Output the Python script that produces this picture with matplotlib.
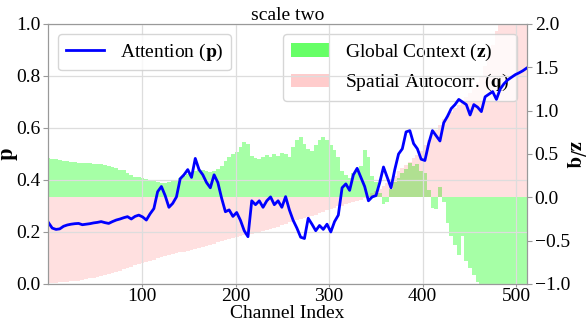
import numpy as np
import matplotlib
matplotlib.use('Agg')
import matplotlib.pyplot as plt
from matplotlib.patches import Patch
from matplotlib.lines import Line2D

# Attention p (left axis), sampled every 4 channels
attention_p = [
    0.236, 0.215, 0.210, 0.212, 0.222, 0.227, 0.230, 0.232, 0.233, 0.228, 0.230, 0.232, 0.235, 0.237, 0.240, 0.236,
    0.233, 0.240, 0.246, 0.250, 0.255, 0.259, 0.250, 0.260, 0.265, 0.258, 0.246, 0.270, 0.290, 0.355, 0.375, 0.340,
    0.295, 0.310, 0.335, 0.405, 0.420, 0.440, 0.410, 0.483, 0.440, 0.420, 0.390, 0.370, 0.420, 0.390, 0.330, 0.278,
    0.285, 0.260, 0.275, 0.245, 0.205, 0.182, 0.320, 0.305, 0.320, 0.295, 0.320, 0.335, 0.305, 0.320, 0.295, 0.336,
    0.285, 0.245, 0.215, 0.180, 0.175, 0.253, 0.230, 0.205, 0.225, 0.210, 0.230, 0.200, 0.240, 0.265, 0.370, 0.385,
    0.360, 0.420, 0.445, 0.410, 0.375, 0.320, 0.335, 0.340, 0.390, 0.450, 0.410, 0.370, 0.440, 0.500, 0.520, 0.585,
    0.590, 0.540, 0.520, 0.480, 0.475, 0.540, 0.590, 0.570, 0.550, 0.620, 0.645, 0.675, 0.690, 0.710, 0.700, 0.690,
    0.650, 0.690, 0.680, 0.663, 0.720, 0.730, 0.740, 0.710, 0.750, 0.770, 0.785, 0.795, 0.805, 0.812, 0.820, 0.830,
]

# Global Context z (right axis)
global_z = [
    0.45, 0.44, 0.44, 0.43, 0.42, 0.42, 0.41, 0.41, 0.40, 0.40, 0.40, 0.395, 0.39, 0.39, 0.385, 0.37,
    0.36, 0.35, 0.34, 0.32, 0.31, 0.28, 0.26, 0.24, 0.23, 0.22, 0.21, 0.20, 0.19, 0.18, 0.17, 0.16,
    0.18, 0.19, 0.20, 0.22, 0.25, 0.27, 0.29, 0.30, 0.31, 0.32, 0.30, 0.29, 0.30, 0.33, 0.36, 0.42,
    0.46, 0.50, 0.52, 0.58, 0.64, 0.62, 0.48, 0.45, 0.44, 0.46, 0.49, 0.47, 0.50, 0.48, 0.51, 0.50,
    0.46, 0.58, 0.66, 0.70, 0.62, 0.56, 0.54, 0.60, 0.66, 0.70, 0.66, 0.60, 0.55, 0.47, 0.30, 0.26,
    0.22, 0.28, 0.33, 0.36, 0.55, 0.46, 0.25, 0.18, 0.05, -0.08, -0.05, 0.10, 0.18, 0.22, 0.28, 0.33,
    0.40, 0.36, 0.38, 0.30, 0.28, 0.08, -0.12, -0.14, 0.12, -0.05, -0.30, -0.45, -0.55, -0.66, -0.45, -0.74,
    -0.82, -0.90, -0.98, -1.05, -1.10, -1.10, -1.10, -1.10, -1.10, -1.10, -1.10, -1.10, -1.10, -1.10, -1.10, -1.10,
]

# Spatial Autocorrelation q (right axis)
spatial_q = [
    -0.99, -0.99, -0.985, -0.98, -0.98, -0.975, -0.97, -0.97, -0.965, -0.955, -0.945, -0.935, -0.925, -0.915, -0.91, -0.90,
    -0.89, -0.875, -0.86, -0.845, -0.83, -0.815, -0.80, -0.785, -0.77, -0.755, -0.745, -0.73, -0.72, -0.705, -0.69, -0.68,
    -0.665, -0.655, -0.645, -0.635, -0.625, -0.615, -0.605, -0.595, -0.585, -0.575, -0.565, -0.55, -0.535, -0.52, -0.505, -0.49,
    -0.48, -0.47, -0.46, -0.45, -0.44, -0.43, -0.42, -0.41, -0.40, -0.39, -0.38, -0.37, -0.355, -0.34, -0.32, -0.305,
    -0.29, -0.28, -0.265, -0.25, -0.24, -0.225, -0.215, -0.20, -0.185, -0.17, -0.15, -0.13, -0.12, -0.105, -0.095, -0.08,
    -0.07, -0.055, -0.04, -0.025, -0.005, 0.02, 0.045, 0.07, 0.10, 0.13, 0.17, 0.21, 0.25, 0.30, 0.34, 0.37,
    0.41, 0.45, 0.49, 0.54, 0.60, 0.66, 0.72, 0.78, 0.84, 0.90, 0.94, 0.98, 1.03, 1.07, 1.12, 1.16,
    1.20, 1.26, 1.33, 1.40, 1.52, 1.63, 1.76, 1.92, 2.05, 2.12, 2.20, 2.30, 2.40, 2.50, 2.65, 2.80,
]

x_ticks = [100, 200, 300, 400, 500]
p_ticks = [0.0, 0.2, 0.4, 0.6, 0.8, 1.0]
zq_ticks = [-1.0, -0.5, 0.0, 0.5, 1.0, 1.5, 2.0]

channels = np.linspace(0, 511, len(attention_p))

plt.rcParams['font.family'] = ['Liberation Serif', 'DejaVu Serif']
plt.rcParams['mathtext.fontset'] = 'stix'

fig = plt.figure(figsize=(5.86, 3.21), dpi=100)
ax = fig.add_axes([48 / 586, 37 / 321, 479 / 586, 260 / 321])
ax2 = ax.twinx()

w = channels[1] - channels[0]
ax2.bar(channels, global_z, width=w, color='lime', alpha=0.35, linewidth=0)
ax2.bar(channels, spatial_q, width=w, color='red', alpha=0.12, linewidth=0)
ax.plot(channels, attention_p, color='blue', lw=2)

ax.set_zorder(ax2.get_zorder() + 1)
ax.patch.set_visible(False)

ax.set_xlim(-0.5, 511.5)
ax.set_ylim(0, 1)
ax2.set_ylim(-1, 2)
ax.set_xticks(x_ticks)
ax.set_yticks(p_ticks)
ax2.set_yticks(zq_ticks)
ax.yaxis.set_major_formatter(plt.FormatStrFormatter('%.1f'))
ax2.yaxis.set_major_formatter(plt.FuncFormatter(lambda v, _: ('%.1f' % v).replace('-', '\u2212')))

ax.grid(True, color='#dddddd', lw=0.9)
for a in (ax, ax2):
    a.tick_params(labelsize=14, length=3.5, color='0.6', pad=2)
    for s in a.spines.values():
        s.set_color('0.6')
ax.tick_params(axis='x', length=2, pad=1)

ax.set_xlabel('Channel Index', fontsize=14, labelpad=0)
ax.set_ylabel(r'$\mathbf{p}$', fontsize=16)
ax.yaxis.set_label_coords(-0.058, 0.5)
ax2.set_ylabel(r'$\mathbf{z}/\mathbf{q}$', fontsize=15, rotation=270, labelpad=12)
ax.set_title('scale two', fontsize=14, pad=3)

ax.legend(handles=[Line2D([0], [0], color='blue', lw=2)], labels=[r'Attention ($\mathbf{p}$)'],
          loc='upper left', fontsize=14)
ax2.legend(handles=[Patch(facecolor=(0, 1, 0, 0.6)), Patch(facecolor=(1, 0, 0, 0.2))],
           labels=[r'Global Context ($\mathbf{z}$)', r'Spatial Autocorr. ($\mathbf{q}$)'],
           loc='upper right', fontsize=14)

fig.savefig('out.png', dpi=100)
